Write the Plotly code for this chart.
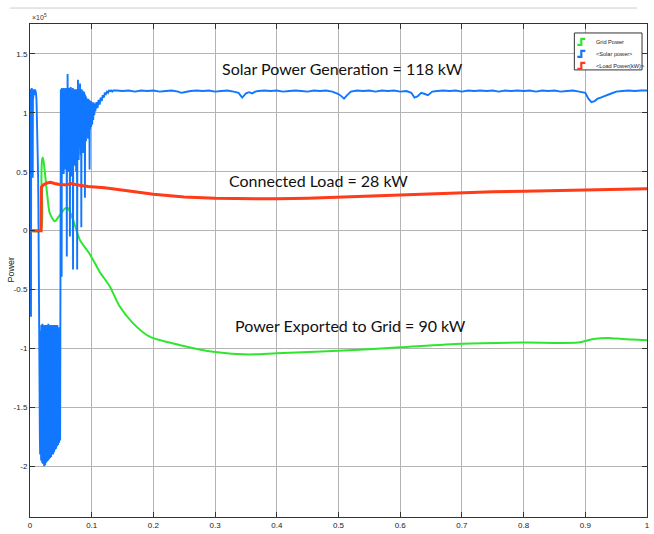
import numpy as np
import plotly.graph_objects as go

# ---------------- data (values x 10^5) ----------------
# Solar power, start-up transient
solar_seg_a = [1.17, 1.20, 0.60, 1.19, -0.73, 1.20, 0.95, 1.21, 1.10, 1.19, 1.18, 0.45, 1.20, 1.12,
               1.19, 1.16, 1.20, 1.15, 1.19, 1.17, 1.20, 1.16, 1.19, 1.18, 1.17, 1.15, 1.12, 1.05,
               0.95, 0.85, 0.75, 0.65, 0.55, 0.45, 0.20, -0.10, -0.40, -0.75, -1.10, -1.45, -1.75,
               -1.90, -1.85]
# deep negative oscillation: troughs and crests (alternate)
solar_b_low = [-1.90, -1.95, -1.92, -1.97, -1.93, -1.98, -1.95, -2.00, -1.96, -1.99, -1.94, -1.97,
               -1.92, -1.96, -1.93, -1.95, -1.90, -1.94, -1.91, -1.93, -1.88, -1.92, -1.89, -1.90,
               -1.86, -1.90, -1.87, -1.88, -1.84, -1.86, -1.82, -1.85, -1.80, -1.83, -1.78, -1.82,
               -1.76, -1.80, -1.75, -1.78]
solar_b_high = [-0.85, -0.80, -0.88, -0.79, -0.82, -0.90, -0.80, -0.86, -0.81, -0.87, -0.80, -0.84,
                -0.92, -0.80, -0.83, -0.79, -0.88, -0.81, -0.85, -0.80, -0.86, -0.82, -0.80, -0.90,
                -0.81, -0.84, -0.80, -0.86, -0.82, -0.80, -0.88, -0.81, -0.84, -0.80, -0.95, -0.83,
                -0.86, -0.82, -0.92, -0.88]
# positive oscillation: crests and troughs (alternate)
solar_c_high = [1.20, 1.19, 1.21, 1.18, 1.20, 1.19, 1.21, 1.20, 1.18, 1.20, 1.21, 1.19, 1.20,
                1.33,
                1.20, 1.19, 1.21, 1.18, 1.20,
                1.22,
                1.19, 1.20, 1.18, 1.21, 1.19, 1.20, 1.18, 1.19, 1.20, 1.17, 1.19, 1.20, 1.18,
                1.28,
                1.19, 1.20, 1.18,
                1.25,
                1.19, 1.18, 1.20, 1.17, 1.19, 1.18, 1.17, 1.18,
                1.16, 1.15, 1.14, 1.13, 1.12, 1.12, 1.11,
                1.12, 1.10, 1.11, 1.10, 1.09, 1.10, 1.09, 1.08, 1.09, 1.08, 1.09, 1.08, 1.08]
solar_c_low = [0.60, -0.39,
               0.70, 0.55, 0.75, 0.48, 0.68, 0.80, 0.52, 0.72, 0.62,
               -0.22,
               0.66, 0.78, 0.50, 0.70, 0.58,
               -0.05,
               0.74, 0.62, 0.46, 0.70, 0.80,
               -0.33,
               0.64, 0.75, 0.55, 0.78, 0.68, 0.50, 0.72,
               -0.33,
               0.66, 0.80, 0.60, 0.75, 0.70, 0.82, 0.64,
               0.03,
               0.78, 0.70, 0.84, 0.66, 0.80, 0.74,
               0.28,
               0.82, 0.76, 0.86, 0.80, 0.88, 0.78, 0.85, 0.90,
               0.52,
               0.86, 0.92, 0.88, 0.95, 0.90, 0.97, 0.94, 1.00, 0.98, 1.02]
solar_seg_d = [1.02, 1.09, 1.04, 1.11, 1.07, 1.13, 1.10, 1.15, 1.13, 1.17, 1.16, 1.18, 1.17, 1.19,
               1.185, 1.19, 1.18, 1.19]
solar_tail_t = [0.14, 0.15, 0.16, 0.17, 0.18, 0.19, 0.20, 0.21, 0.22, 0.23, 0.24, 0.245, 0.25, 0.26,
                0.27, 0.28, 0.29, 0.30, 0.31, 0.32, 0.33, 0.338, 0.344, 0.35, 0.355, 0.36, 0.365,
                0.37, 0.38, 0.39, 0.40, 0.41, 0.42, 0.43, 0.44, 0.45, 0.46, 0.47, 0.48, 0.49, 0.50,
                0.505, 0.509, 0.514, 0.52, 0.53, 0.54, 0.55, 0.56, 0.57, 0.58, 0.59, 0.60, 0.61,
                0.618, 0.623, 0.628, 0.634, 0.64, 0.645, 0.652, 0.66, 0.67, 0.68, 0.69, 0.70, 0.71,
                0.72, 0.73, 0.74, 0.75, 0.76, 0.77, 0.78, 0.79, 0.80, 0.81, 0.82, 0.83, 0.84, 0.85,
                0.86, 0.87, 0.88, 0.89, 0.90, 0.905, 0.91, 0.915, 0.92, 0.925, 0.93, 0.94, 0.95,
                0.96, 0.97, 0.98, 0.99, 1.00]
solar_tail_v = [1.19, 1.185, 1.19, 1.18, 1.19, 1.185, 1.19, 1.18, 1.185, 1.19, 1.18, 1.17, 1.175, 1.185,
                1.19, 1.185, 1.19, 1.18, 1.185, 1.19, 1.18, 1.17, 1.13, 1.165, 1.175, 1.165, 1.18,
                1.185, 1.19, 1.185, 1.19, 1.18, 1.185, 1.19, 1.185, 1.18, 1.19, 1.185, 1.19, 1.18, 1.16,
                1.14, 1.12, 1.15, 1.18, 1.19, 1.185, 1.19, 1.18, 1.19, 1.185, 1.19, 1.18, 1.185,
                1.17, 1.13, 1.14, 1.17, 1.16, 1.15, 1.18, 1.185, 1.19, 1.185, 1.19, 1.18, 1.19,
                1.185, 1.19, 1.185, 1.19, 1.18, 1.19, 1.185, 1.19, 1.185, 1.19, 1.18, 1.19, 1.185,
                1.19, 1.18, 1.185, 1.19, 1.18, 1.17, 1.12, 1.09, 1.10, 1.12, 1.13, 1.14, 1.16, 1.18,
                1.185, 1.19, 1.185, 1.19, 1.19]

load_t = [0.0, 0.018, 0.0185, 0.022, 0.028, 0.033, 0.040, 0.050, 0.060, 0.067, 0.075, 0.094, 0.121,
          0.14, 0.17, 0.20, 0.25, 0.30, 0.35, 0.40, 0.45, 0.50, 0.55, 0.60, 0.65, 0.70, 0.75, 0.80,
          0.85, 0.90, 0.945, 0.95, 1.0]
load_v = [0.0, 0.0, 0.37, 0.39, 0.405, 0.41, 0.40, 0.39, 0.39, 0.40, 0.39, 0.375, 0.365,
          0.35, 0.33, 0.31, 0.285, 0.275, 0.27, 0.27, 0.275, 0.285, 0.295, 0.305, 0.315, 0.325, 0.33,
          0.335, 0.34, 0.345, 0.35, 0.355, 0.355]

grid_t = [0.0, 0.017, 0.0185, 0.0195, 0.021, 0.024, 0.028, 0.032, 0.040, 0.048, 0.057, 0.062, 0.0654,
          0.070, 0.081, 0.097, 0.113, 0.129, 0.145, 0.166, 0.194, 0.242, 0.30, 0.355, 0.40, 0.50,
          0.60, 0.70, 0.80, 0.888, 0.913, 0.937, 0.96, 1.0]
grid_v = [0.0, 0.0, 0.45, 0.60, 0.62, 0.50, 0.30, 0.15, 0.08, 0.13, 0.19, 0.19, 0.15,
          0.09, -0.08, -0.20, -0.35, -0.47, -0.64, -0.78, -0.90, -0.97, -1.03, -1.05, -1.04, -1.02,
          -0.99, -0.96, -0.95, -0.95, -0.92, -0.91, -0.92, -0.93]

x_ticks = [0, 0.1, 0.2, 0.3, 0.4, 0.5, 0.6, 0.7, 0.8, 0.9, 1]
x_tick_labels = ["0", "0.1", "0.2", "0.3", "0.4", "0.5", "0.6", "0.7", "0.8", "0.9", "1"]
y_ticks = [-2, -1.5, -1, -0.5, 0, 0.5, 1, 1.5]
y_tick_labels = ["-2", "-1.5", "-1", "-0.5", "0", "0.5", "1", "1.5"]

series_names = ["Grid Power", "<Solar power>", "<Load Power(kW)>"]
series_colors = ["#2ee62e", "#1177ff", "#ff3b1a"]
annotations_text = ["Solar Power Generation = 118 kW", "Connected Load = 28 kW",
                    "Power Exported to Grid = 90 kW"]

# ---------------- build solar series ----------------
solar_seg_b = [v for pair in zip(solar_b_low, solar_b_high) for v in pair]
solar_seg_c = [v for pair in zip(solar_c_high, solar_c_low) for v in pair]
solar_t = np.concatenate([
    np.linspace(0.0, 0.0168, len(solar_seg_a)),
    np.linspace(0.0172, 0.0492, len(solar_seg_b)),
    np.linspace(0.0500, 0.1050, len(solar_seg_c)),
    np.linspace(0.1060, 0.1350, len(solar_seg_d)),
    np.array(solar_tail_t),
])
solar_v = np.concatenate([solar_seg_a, solar_seg_b, solar_seg_c, solar_seg_d, solar_tail_v])
assert len(solar_tail_t) == len(solar_tail_v)
assert len(load_t) == len(load_v)
assert len(grid_t) == len(grid_v)

fig = go.Figure()
fig.add_trace(go.Scatter(x=grid_t, y=grid_v, mode="lines", name=series_names[0],
                         line=dict(color=series_colors[0], width=2, shape="spline", smoothing=0.7)))
fig.add_trace(go.Scatter(x=solar_t, y=solar_v, mode="lines", name=series_names[1],
                         line=dict(color=series_colors[1], width=1.9, simplify=False)))
fig.add_trace(go.Scatter(x=load_t, y=load_v, mode="lines", name=series_names[2],
                         line=dict(color=series_colors[2], width=3, shape="linear")))

tick_font = dict(family="Liberation Sans Narrow, Arial Narrow, sans-serif", size=8, color="#222")
ann_font = dict(family="Lato, Calibri, sans-serif", size=16, color="#111")
small_font = dict(family="Liberation Sans Narrow, sans-serif", size=5.6, color="#222")

# ---- plot-area geometry (pixels) used to place the hand-made legend ----
L, R, T, B = 30, 650, 24, 518


def px(x):
    return (x - L) / (R - L)


def py(y):
    return (B - y) / (B - T)


annotations = [
    dict(x=0.506, y=1.373, xref="x", yref="y", text=annotations_text[0], showarrow=False,
         font=ann_font),
    dict(x=0.468, y=0.424, xref="x", yref="y", text=annotations_text[1], showarrow=False,
         font=ann_font),
    dict(x=0.52, y=-0.805, xref="x", yref="y", text=annotations_text[2], showarrow=False,
         font=ann_font),
    dict(x=0.0, y=1.0, xref="paper", yref="paper", text="×10<sup>5</sup>", showarrow=False,
         xanchor="left", yanchor="bottom", yshift=1,
         font=dict(family="Liberation Sans Narrow, sans-serif", size=7, color="#333")),
    dict(x=px(10), y=py(270), xref="paper", yref="paper", text="Power", showarrow=False,
         xanchor="center", yanchor="middle", textangle=-90,
         font=dict(family="Liberation Sans, Arial, sans-serif", size=9, color="#222")),
]

shapes = [
    dict(type="line", xref="paper", yref="paper", x0=px(10), x1=px(640), y0=py(8), y1=py(8),
         line=dict(color="#cccccc", width=1)),
    dict(type="rect", xref="paper", yref="paper", x0=px(577), x1=px(645), y0=py(70), y1=py(33),
         fillcolor="white", line=dict(color="#333", width=1), layer="above"),
]
for i, (name, col) in enumerate(zip(series_names, series_colors)):
    yc = 42 + 12 * i
    path = "M {a},{b} L {c},{b} L {c},{d} L {e},{d}".format(
        a=px(580), b=py(yc + 3), c=px(584), d=py(yc - 3), e=px(588))
    shapes.append(dict(type="path", xref="paper", yref="paper", path=path,
                       line=dict(color=col, width=2.2), layer="above"))
    annotations.append(dict(x=px(597), y=py(yc), xref="paper", yref="paper",
                            text=name.replace("<", "&lt;").replace(">", "&gt;"),
                            showarrow=False, xanchor="left", yanchor="middle", font=small_font))

fig.update_layout(
    width=654, height=534,
    margin=dict(l=L, r=654 - R, t=T, b=534 - B),
    paper_bgcolor="white", plot_bgcolor="white",
    showlegend=False,
    annotations=annotations,
    shapes=shapes,
)
fig.update_xaxes(range=[0, 1], tickvals=x_ticks, ticktext=x_tick_labels, showgrid=True,
                 gridcolor="#b4b4b4", gridwidth=1, zeroline=False, showline=True,
                 linecolor="#333", linewidth=1, mirror="ticks", ticks="inside", ticklen=5,
                 tickcolor="#333", tickfont=tick_font)
fig.update_yaxes(range=[-2.43, 1.754], tickvals=y_ticks, ticktext=y_tick_labels, showgrid=True,
                 gridcolor="#b4b4b4", gridwidth=1, zeroline=False, showline=True,
                 linecolor="#333", linewidth=1, mirror="ticks", ticks="inside", ticklen=5,
                 tickcolor="#333", tickfont=tick_font)

fig.write_html("out.html")
